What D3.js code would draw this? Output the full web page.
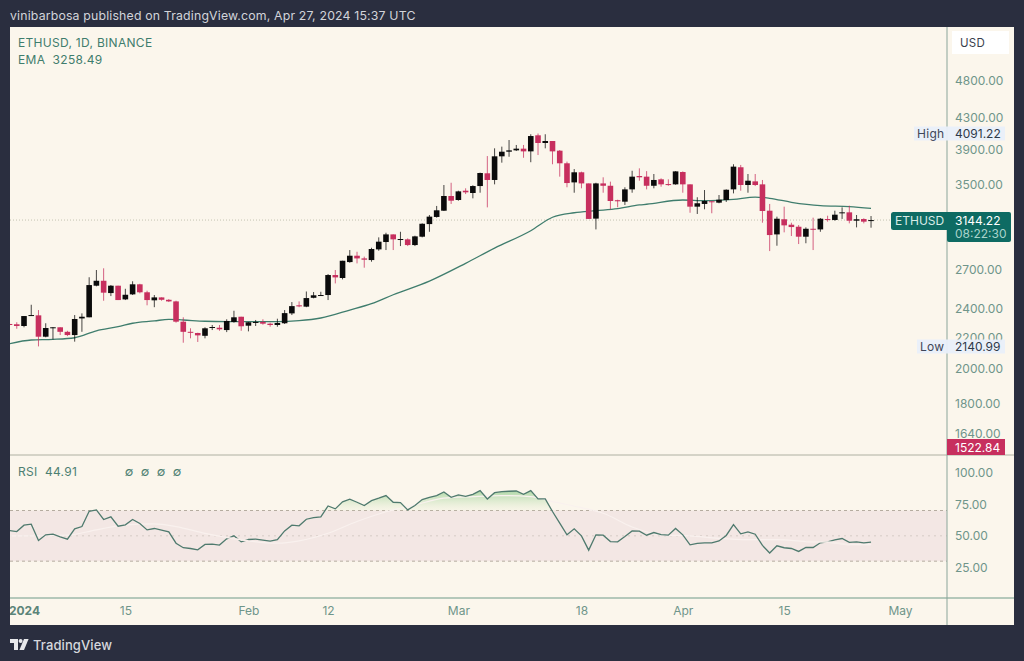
<!doctype html>
<html lang="en">
  <head>
    <meta charset="UTF-8"/>
    <title>ETHUSD</title>
    <script src="https://cdnjs.cloudflare.com/ajax/libs/d3/7.8.5/d3.min.js"></script>
    <style>
      html, body { margin: 0; padding: 0; background: #2a2e3f; overflow: hidden; }
      svg { display: block; }
      text { font-family: Inter, "Noto Sans", sans-serif; }
    </style>
  </head>
  <body>
    <svg id="chart" width="1024" height="661"></svg>
    <script>
      // first candle is 30 Dec 2023, one entry per day after that
      const firstDay = new Date(Date.UTC(2023, 11, 30));

      const opens = [2292,2290,2278,2348,2353,2205,2264,2269,2238,2216,2331,2339,2575,2614,2518,2575,2470,2508,2586,2524,2463,2485,2467,2455,2308,2238,2230,2211,2266,2266,2250,2306,2343,2280,2301,2306,2294,2285,2297,2367,2426,2416,2482,2501,2503,2660,2636,2767,2821,2798,2784,2876,2941,3010,2965,2965,2914,2989,3106,3174,3235,3383,3342,3438,3414,3487,3625,3552,3817,3871,3887,3907,3875,4069,3975,3999,3883,3737,3526,3636,3515,3158,3515,3490,3340,3325,3452,3595,3588,3490,3559,3508,3505,3639,3505,3275,3302,3329,3315,3342,3452,3692,3498,3537,3505,3235,3010,3152,3100,3081,2989,3062,3056,3154,3145,3210,3219,3138,3154,3135];
      const highs = [2301,2304,2348,2430,2391,2297,2270,2269,2245,2355,2367,2642,2701,2715,2580,2575,2551,2610,2590,2536,2503,2485,2472,2460,2339,2262,2232,2269,2285,2285,2325,2386,2343,2306,2320,2325,2301,2329,2391,2450,2455,2530,2526,2528,2668,2701,2778,2870,2855,2813,2890,2983,3025,3010,3034,2974,2998,3113,3193,3282,3498,3522,3438,3463,3495,3632,3820,3911,3931,4011,3951,3951,4082,4091,4082,3999,3891,3756,3672,3643,3515,3522,3581,3534,3345,3474,3653,3680,3649,3617,3570,3559,3649,3646,3505,3370,3445,3332,3393,3452,3726,3718,3617,3617,3552,3302,3177,3275,3119,3097,3075,3167,3164,3186,3235,3268,3285,3193,3161,3183];
      const lows = [2273,2259,2269,2348,2141,2201,2187,2216,2209,2172,2238,2339,2570,2460,2495,2465,2465,2503,2516,2426,2412,2460,2450,2301,2165,2194,2170,2194,2250,2245,2236,2301,2245,2241,2278,2287,2273,2273,2292,2355,2412,2412,2478,2498,2465,2593,2625,2761,2756,2720,2770,2864,2870,2870,2905,2905,2905,2983,3034,3167,3232,3302,3335,3403,3359,3417,3268,3505,3744,3812,3879,3800,3749,3832,3911,3726,3588,3474,3417,3463,3155,3056,3417,3249,3269,3292,3417,3544,3452,3463,3480,3490,3501,3417,3215,3203,3249,3210,3309,3322,3410,3438,3417,3487,3119,2861,2908,3029,2995,2923,2930,2870,3034,3129,3138,3155,3113,3075,3113,3072];
      const closes = [2285,2278,2348,2355,2205,2264,2269,2238,2216,2327,2343,2580,2614,2521,2575,2465,2505,2586,2524,2465,2485,2467,2455,2308,2238,2232,2214,2262,2271,2255,2313,2339,2276,2304,2306,2294,2285,2299,2369,2420,2418,2480,2501,2503,2660,2641,2778,2821,2798,2787,2879,2944,3010,2965,2968,2914,2992,3109,3177,3239,3383,3335,3431,3421,3487,3628,3552,3817,3871,3887,3907,3875,4060,3975,3999,3875,3737,3519,3636,3515,3155,3515,3490,3332,3329,3452,3588,3581,3490,3552,3505,3501,3646,3505,3275,3309,3332,3319,3345,3448,3699,3498,3544,3498,3232,3004,3157,3094,3078,2989,3062,3056,3157,3145,3196,3219,3138,3152,3129,3144];

      const rsiValues = [54.2,53.4,58.4,59.2,46.3,50.8,51.3,49.2,47.4,55.5,57.3,69.4,70.5,62.9,65,57.6,58.7,62.9,59.7,54.7,55.8,54.5,53.1,44.2,40.6,40,39,43.2,43.4,42.7,47.6,50,45.3,47.1,47.4,46.6,45.8,46.9,53.9,58.4,57.9,63.1,64.4,65,73.6,71.3,76.8,78.9,76.5,73.9,77.8,79.7,81.8,76.5,76.2,70.5,73.9,78.6,80.4,81.8,84.6,80.4,82.3,81.2,82.8,85.7,79.1,84.1,84.9,85.2,85.4,82.8,85.7,79.1,79.1,69.2,60,50.8,55.5,50,38.7,50.8,50.5,45.5,45.3,49.5,53.9,53.7,50.5,52.6,51,50.5,55.8,50.8,42.9,44,44.5,44.5,46,50.3,58.9,51.6,53.1,51.3,42.4,36.4,42.1,40.6,40,37.7,40.8,40.8,44.5,45.3,46.9,47.9,44.8,45.3,44.5,45];

      // EMA and RSI average, read at these days counted from 1 Jan
      const emaDays = [-2,1,4,7,10,13,15,18,20,22,25,28,31,35,38,41,45,48,51,56,61,65,70,73,76,79,82,85,86,91,94,98,101,103,106,110,114,117];
      const emaValues = [2158,2183,2187,2198,2245,2273,2297,2313,2325,2320,2311,2308,2308,2308,2315,2334,2391,2438,2505,2611,2756,2887,3044,3171,3215,3235,3255,3292,3299,3342,3335,3349,3372,3359,3319,3285,3275,3258];
      const rsiMaDays = [-2,2,6,10,14,18,21,25,28,31,35,38,42,46,50,54,58,62,66,70,73,77,80,84,88,92,96,100,104,108,111,114,117];
      const rsiMaValues = [50,50,50.5,54.7,58.7,59.4,57.3,52,48.7,46,44.2,46,52,61.3,69,74.4,79.7,81,81.8,81,77,72.3,67.8,57,50.8,50,48,47,47,45.5,45,43,43];
      // stretches where the average runs over the rsi line
      const rsiMaOnTop = [[28,31],[108,114]];

      const priceTicks = [4800,4300,3900,3500,2700,2400,2200,2000,1800,1640];
      const rsiTicks = [100,75,50,25];
      const rsiBands = [70,50,30];
      const timeTicks = [
        [Date.UTC(2024,0,1), "2024"], [Date.UTC(2024,0,15), "15"],
        [Date.UTC(2024,1,1), "Feb"], [Date.UTC(2024,1,12), "12"],
        [Date.UTC(2024,2,1), "Mar"], [Date.UTC(2024,2,18), "18"],
        [Date.UTC(2024,3,1), "Apr"], [Date.UTC(2024,3,15), "15"],
        [Date.UTC(2024,4,1), "May"]
      ];

      const bg = "#fbf6ec", frame = "#2a2e3f", teal = "#3f7d6d", axisText = "#6f958a";
      const upColor = "#0b0b0b", downColor = "#c72f5e";

      const panel = {left: 10, right: 1014, top: 27, bottom: 625};
      const plotRight = 947, priceBottom = 455, rsiBottom = 598;

      const svg = d3.select("#chart");
      const defs = svg.append("defs");

      defs.append("clipPath").attr("id", "priceClip").append("rect")
        .attr("x", panel.left).attr("y", panel.top)
        .attr("width", plotRight - panel.left).attr("height", priceBottom - panel.top);
      defs.append("clipPath").attr("id", "rsiClip").append("rect")
        .attr("x", panel.left).attr("y", priceBottom)
        .attr("width", plotRight - panel.left).attr("height", rsiBottom - priceBottom);

      const x = d3.scaleUtc()
        .domain([Date.UTC(2024,0,1), Date.UTC(2024,4,1)])
        .range([24, 900]);
      const y = d3.scaleLog().domain([4800, 1640]).range([81, 434]);
      const yRsi = d3.scaleLinear().domain([100, 25]).range([472.5, 567.5]);

      const dayOf = i => d3.utcDay.offset(firstDay, i);
      const fromJan = d => Date.UTC(2024, 0, 1 + d);

      // frame and panel
      svg.append("rect").attr("width", 1024).attr("height", 661).attr("fill", frame);
      svg.append("rect")
        .attr("x", panel.left).attr("y", panel.top)
        .attr("width", panel.right - panel.left).attr("height", panel.bottom - panel.top)
        .attr("fill", bg);

      // rsi band goes under everything in the lower pane
      const rsiPane = svg.append("g").attr("clip-path", "url(#rsiClip)");
      rsiPane.append("rect")
        .attr("x", panel.left).attr("width", plotRight - panel.left)
        .attr("y", yRsi(70)).attr("height", yRsi(30) - yRsi(70))
        .attr("fill", "#f3e7e4");
      rsiPane.selectAll(".band").data(rsiBands).enter().append("line")
        .attr("class", "band")
        .attr("x1", panel.left).attr("x2", plotRight)
        .attr("y1", d => yRsi(d)).attr("y2", d => yRsi(d))
        .attr("stroke", "#b5aca0").attr("stroke-width", 1)
        .attr("stroke-dasharray", d => d == 50 ? "2,4" : "3,3")
        .attr("opacity", d => d == 50 ? 0.45 : 1);

      const grad = defs.append("linearGradient").attr("id", "overbought")
        .attr("gradientUnits", "userSpaceOnUse")
        .attr("x1", 0).attr("x2", 0).attr("y1", yRsi(86)).attr("y2", yRsi(70));
      grad.append("stop").attr("offset", 0).attr("stop-color", "#8fcb8c").attr("stop-opacity", 0.75);
      grad.append("stop").attr("offset", 1).attr("stop-color", "#dfeccb").attr("stop-opacity", 0.15);

      rsiPane.append("path")
        .datum(rsiValues)
        .attr("fill", "url(#overbought)")
        .attr("d", d3.area()
          .x((d, i) => x(dayOf(i)))
          .y0(yRsi(70))
          .y1(d => yRsi(Math.max(d, 70))));

      const rsiMaLine = d3.line().curve(d3.curveMonotoneX)
        .x(d => x(fromJan(d[0]))).y(d => yRsi(d[1]));
      const rsiMaPoints = d3.zip(rsiMaDays, rsiMaValues);

      rsiPane.append("path")
        .datum(rsiMaPoints)
        .attr("fill", "none").attr("stroke", "#f9f1ee").attr("stroke-width", 1.2)
        .attr("d", rsiMaLine);

      rsiPane.append("path")
        .datum(rsiValues)
        .attr("fill", "none").attr("stroke", "#4f7a6e").attr("stroke-width", 1.3)
        .attr("d", d3.line().x((d, i) => x(dayOf(i))).y(d => yRsi(d)));

      rsiPane.selectAll(".maTop").data(rsiMaOnTop).enter().append("path")
        .attr("class", "maTop")
        .attr("fill", "none").attr("stroke", "#f7eeea").attr("stroke-width", 1.6)
        .attr("d", r => rsiMaLine(rsiMaPoints.filter(p => p[0] >= r[0] && p[0] <= r[1])));

      // price pane
      const pricePane = svg.append("g").attr("clip-path", "url(#priceClip)");

      pricePane.append("line")
        .attr("x1", panel.left).attr("x2", plotRight)
        .attr("y1", y(3144.22)).attr("y2", y(3144.22))
        .attr("stroke", "#c4c3b2").attr("stroke-width", 1).attr("stroke-dasharray", "1,2");

      pricePane.append("path")
        .datum(emaValues)
        .attr("fill", "none").attr("stroke", "#3f7d6d").attr("stroke-width", 1.3)
        .attr("d", d3.line().curve(d3.curveMonotoneX)
          .x((d, i) => x(fromJan(emaDays[i]))).y(d => y(d)));

      const candleColor = i => closes[i] >= opens[i] ? upColor : downColor;
      const candleWidth = 5.6;

      pricePane.selectAll(".wick").data(opens).enter().append("line")
        .attr("class", "wick")
        .attr("x1", (d, i) => x(dayOf(i))).attr("x2", (d, i) => x(dayOf(i)))
        .attr("y1", (d, i) => y(highs[i])).attr("y2", (d, i) => y(lows[i]))
        .attr("stroke", (d, i) => candleColor(i)).attr("stroke-width", 1)
        .attr("stroke-opacity", 0.75);

      pricePane.selectAll(".body").data(opens).enter().append("rect")
        .attr("class", "body")
        .attr("x", (d, i) => x(dayOf(i)) - candleWidth / 2)
        .attr("width", candleWidth)
        .attr("y", (d, i) => y(Math.max(d, closes[i])))
        .attr("height", (d, i) => Math.max(1, Math.abs(y(d) - y(closes[i]))))
        .attr("fill", (d, i) => candleColor(i));

      // axes and dividers
      const rules = [
        [panel.left, priceBottom, panel.right, priceBottom, "#aeb0a2"],
        [panel.left, rsiBottom, panel.right, rsiBottom, "#6f9a88"],
        [plotRight, panel.top, plotRight, panel.bottom, "#8aa59a"]
      ];
      svg.selectAll(".rule").data(rules).enter().append("line")
        .attr("class", "rule")
        .attr("x1", d => d[0]).attr("y1", d => d[1]).attr("x2", d => d[2]).attr("y2", d => d[3])
        .attr("stroke", d => d[4]).attr("stroke-width", 1);

      const styleAxis = g => {
        g.select(".domain").remove();
        g.selectAll(".tick line").remove();
        g.selectAll("text")
          .attr("fill", axisText).attr("font-size", 12)
          .attr("font-family", "Inter, sans-serif");
      };

      svg.append("g").attr("transform", `translate(${plotRight},0)`)
        .call(d3.axisRight(y).tickValues(priceTicks).tickFormat(d3.format(".2f")).tickSize(0).tickPadding(8))
        .call(styleAxis);
      svg.append("g").attr("transform", `translate(${plotRight},0)`)
        .call(d3.axisRight(yRsi).tickValues(rsiTicks).tickFormat(d3.format(".2f")).tickSize(0).tickPadding(8))
        .call(styleAxis);

      const timeLabels = new Map(timeTicks);
      const timeAxis = svg.append("g").attr("transform", `translate(0,${rsiBottom})`)
        .call(d3.axisBottom(x).tickValues(timeTicks.map(d => d[0]))
          .tickFormat(d => timeLabels.get(+d)).tickSize(0).tickPadding(8))
        .call(styleAxis);
      timeAxis.selectAll("text").filter(d => timeLabels.get(+d) == "2024")
        .attr("font-weight", 700).attr("fill", "#5b8478");

      // cover what the 2024 label would spill over the frame
      svg.append("rect").attr("x", 0).attr("y", 600).attr("width", panel.left).attr("height", 30).attr("fill", frame);

      // top and legend texts
      const label = (txt, px, py, size, fill, spacing) => svg.append("text")
        .attr("x", px).attr("y", py)
        .attr("font-size", size).attr("fill", fill)
        .attr("letter-spacing", spacing === undefined ? 0.3 : spacing)
        .text(txt);

      label("vinibarbosa published on TradingView.com, Apr 27, 2024 15:37 UTC", 10, 20, 12.3, "#d2d4da", 0.17);
      label("ETHUSD, 1D, BINANCE", 18, 46.5, 12, teal);
      label("EMA  3258.49", 18, 64, 12, teal).attr("xml:space", "preserve");
      label("RSI  44.91", 18, 475.5, 12, "#4d7f72").attr("xml:space", "preserve");
      ["\u2205","\u2205","\u2205","\u2205"].forEach((s, i) => {
        label(s, 129 + i * 16, 475.5, 12.5, "#4d7f72", 0).attr("text-anchor", "middle")
          .attr("font-family", "DejaVu Sans");
      });

      // USD box
      svg.append("rect").attr("x", 952).attr("y", 31).attr("width", 57).attr("height", 23).attr("fill", "#ffffff");
      label("USD", 960, 46.5, 11.5, "#3a3f4d");

      // high and low boxes
      const markers = [["High", 4091.22, 914, 133.5], ["Low", 2140.99, 917, 346.5]];
      markers.forEach(m => {
        svg.append("rect").attr("x", m[2]).attr("y", m[3] - 7).attr("width", 1005 - m[2]).attr("height", 14)
          .attr("fill", "#e9effa").attr("fill-opacity", 0.95);
        label(m[0], m[2] + 3, m[3] + 4.3, 12, "#3f4658");
        label(d3.format(".2f")(m[1]), 955, m[3] + 4.3, 12, "#2f3a4a", 0);
      });

      // last price tags
      svg.append("rect").attr("x", 891).attr("y", 212).attr("width", 60).attr("height", 18).attr("rx", 2.5).attr("fill", "#0e6b63");
      svg.append("rect").attr("x", 947).attr("y", 212).attr("width", 64).attr("height", 30).attr("rx", 2).attr("fill", "#0e6b63");
      label("ETHUSD", 895, 225.3, 12, "#d8ece7", 0);
      label("3144.22", 955, 225.3, 12, "#ffffff", 0);
      label("08:22:30", 955, 238.3, 12, "#a9d3cb", 0);

      svg.append("rect").attr("x", 947).attr("y", 439).attr("width", 58).attr("height", 16).attr("fill", "#c72f5e");
      label("1522.84", 955, 451.5, 12, "#ffffff", 0);

      // logo
      const logo = svg.append("g").attr("fill", "#e8e9ec");
      logo.append("path").attr("d", "M10 639h8v11h-4v-7h-4z");
      logo.append("circle").attr("cx", 20.6).attr("cy", 641).attr("r", 2);
      logo.append("path").attr("d", "M24 639h4.6l-4.6 11h-4.6z");
      label("TradingView", 33, 649.5, 13, "#d6d8dd", 0.1).attr("font-weight", 500);
    </script>
  </body>
</html>
